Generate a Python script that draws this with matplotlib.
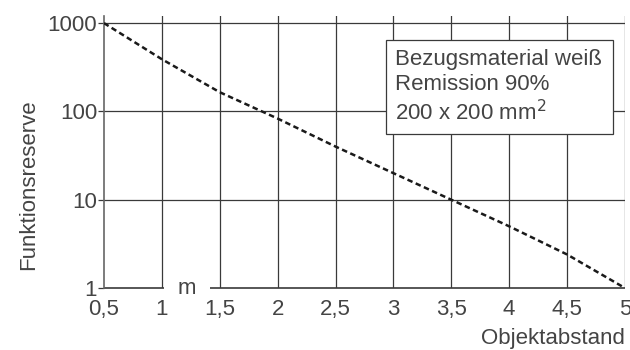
import numpy as np
import matplotlib.pyplot as plt
from matplotlib.patches import Rectangle

# Funktionsreserve vs. Objektabstand
abstand = [0.5, 1.0, 1.5, 2.0, 2.5, 3.0, 3.5, 4.0, 4.5, 5.0]
reserve = [1000, 390, 165, 83, 40, 20, 10, 5.0, 2.4, 1.0]
x_ticks = [0.5, 1, 1.5, 2, 2.5, 3, 3.5, 4, 4.5, 5]
x_labels = ['0,5', '1', '1,5', '2', '2,5', '3', '3,5', '4', '4,5', '5']
y_ticks = [1, 10, 100, 1000]
y_labels = ['1', '10', '100', '1000']

plt.rcParams['font.family'] = ['Liberation Sans', 'DejaVu Sans']
grid_col = '#3a3a3a'
txt_col = '#444444'
fs = 16

fig = plt.figure(figsize=(6.3, 3.5), dpi=100)
ax = fig.add_axes([0.165, 0.177, 0.827, 0.777])

ax.set_yscale('log')
ax.set_xlim(0.5, 5)
ax.set_ylim(1, 1200)

ax.plot(abstand, reserve, color='#1a1a1a', lw=1.8, ls=(0, (2.2, 1.4)), zorder=3)

ax.set_xticks(x_ticks)
ax.set_xticklabels(x_labels)
ax.set_yticks(y_ticks)
ax.set_yticklabels(y_labels)
ax.minorticks_off()
ax.tick_params(axis='x', length=0, pad=8, labelsize=fs, labelcolor=txt_col)
ax.tick_params(axis='y', length=4, width=0.9, color=grid_col, pad=1,
               labelsize=fs, labelcolor=txt_col)

for s in ['top', 'right', 'bottom']:
    ax.spines[s].set_visible(False)
ax.spines['left'].set_color('#666666')
ax.spines['left'].set_linewidth(1.2)

# grid
for xv in x_ticks[1:]:
    ax.axvline(xv, color=grid_col, lw=0.9, zorder=1)
for yv in y_ticks[1:]:
    ax.axhline(yv, color=grid_col, lw=0.9, zorder=1)

# bottom axis line with gap for the unit
ax.hlines(1, 0.5, 1.02, color=grid_col, lw=1.2, zorder=1, clip_on=False)
ax.hlines(1, 1.42, 5.0, color=grid_col, lw=1.2, zorder=1, clip_on=False)
ax.text(1.22, 1.0, 'm', ha='center', va='center', fontsize=fs, color=txt_col)

ax.set_ylabel('Funktionsreserve', fontsize=fs, color=txt_col)
ax.yaxis.set_label_coords(-0.125, 0.38)
fig.text(0.992, 0.018, 'Objektabstand', ha='right', va='baseline', fontsize=fs, color=txt_col)

# info box
ax.add_patch(Rectangle((0.541, 0.566), 0.436, 0.346, transform=ax.transAxes,
                       fc='white', ec=grid_col, lw=0.9, zorder=4))
ax.text(0.559, 0.878, 'Bezugsmaterial weiß\nRemission 90%\n200 x 200 mm$^2$',
        transform=ax.transAxes, ha='left', va='top', fontsize=fs, color=txt_col,
        linespacing=1.25, zorder=5)

fig.savefig('out.png', dpi=100)
